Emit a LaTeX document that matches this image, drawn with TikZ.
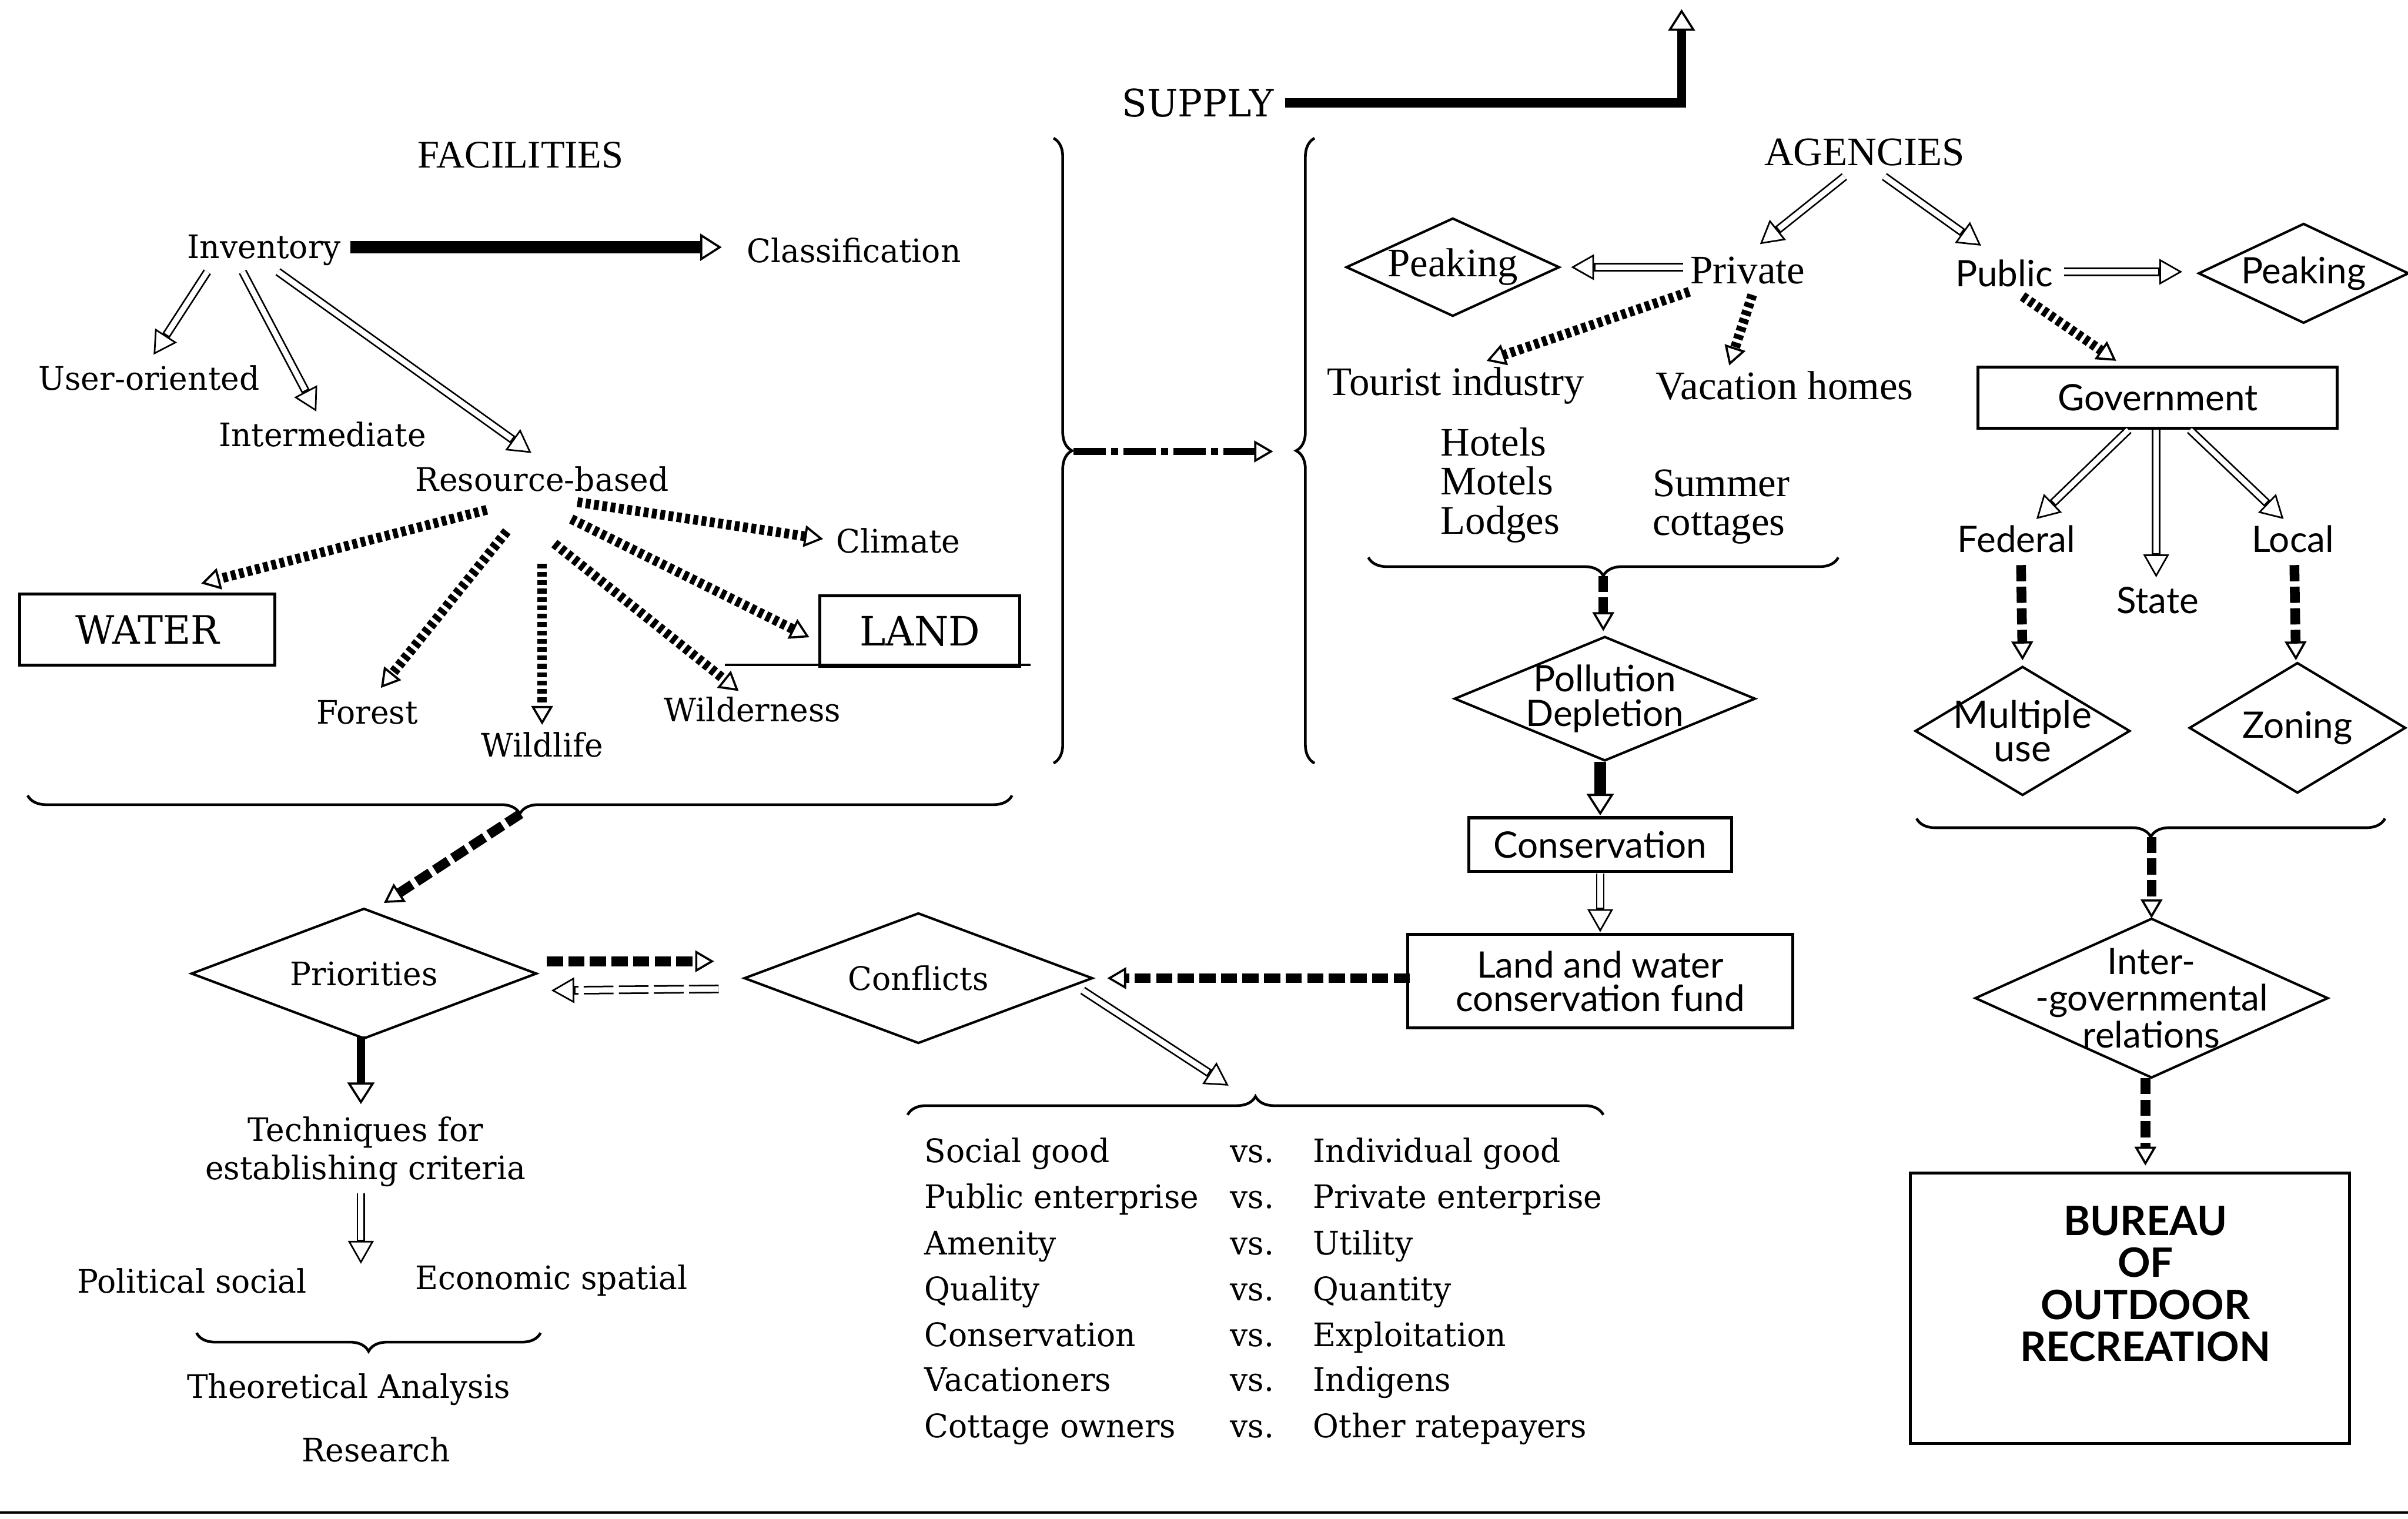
\documentclass[tikz,border=0pt]{standalone}
\usepackage{fontspec}
\usetikzlibrary{arrows.meta,shapes.geometric,decorations.pathreplacing}
\setmainfont{DejaVu Serif}[FakeStretch=0.97]
\newfontfamily\agfont{Liberation Serif}
\newfontfamily\govfont{Lato}

\begin{document}
\begin{tikzpicture}[x=0.2mm, y=-0.2mm,
	every node/.style={inner sep=1pt, font=\fontsize{12}{14}\selectfont},
	agtext/.style={font=\agfont\fontsize{15}{17}\selectfont},
	govtext/.style={font=\govfont\fontsize{13.5}{15}\selectfont},
	panel/.style={draw, line width=1.1pt, inner sep=0pt},
	decision/.style={draw, diamond, aspect=2.4, line width=0.9pt, inner sep=-8pt},
	openhead/.style={-{Triangle[open, line width=0.8pt, length=7pt, width=8pt]}},
	heavy/.style={-{Triangle[open, line width=0.8pt, length=8pt, width=10pt]}, line width=4.5pt},
	hollow/.style={-{Triangle[open, line width=0.6pt, length=8.5pt, width=9.5pt]}, line width=3.2pt, postaction={draw=white, line width=2pt, -, solid, shorten >=9pt}},
	ladder/.style={openhead, line width=3.6pt, dash pattern=on 1.8pt off 1.3pt},
	striped/.style={openhead, line width=3.6pt, dash pattern=on 6pt off 2pt},
	dashdotarrow/.style={openhead, line width=2.6pt, dash pattern=on 12pt off 2pt on 2.5pt off 2pt},
	curly/.style={decorate, decoration={brace, amplitude=#1}, line width=1pt}]
	\useasboundingbox (0,0) rectangle (1568,989);

	\node[font=\fontsize{14}{16}\selectfont] (supply) at (780,67) {SUPPLY};
	\coordinate (supplytop) at (1095,6);
	\draw[heavy, line width=3.4pt] ([xshift=3pt]supply.east) -| (supplytop);

	\node[font=\agfont\fontsize{14.5}{16}\selectfont] (facilities) at (339,101) {FACILITIES};
	\node (inventory) at (172,163) {Inventory};
	\node (classification) at (556,163) {Classification};
	\node (useroriented) at (97,246) {User-oriented};
	\node (intermediate) at (210,283) {Intermediate};
	\node (resbased) at (353,312) {Resource-based};
	\node (climate) at (585,352) {Climate};
	\node[panel, minimum width=33.2mm, minimum height=9.2mm, font=\fontsize{14.5}{16}\selectfont] (water) at (96,410) {WATER};
	\node[panel, minimum width=26mm, minimum height=9.2mm, font=\fontsize{15}{16}\selectfont] (land) at (599,411) {LAND};
	\node (forest) at (239,464) {Forest};
	\node (wildlife) at (353,485) {Wildlife};
	\node (wilderness) at (490,462) {Wilderness};

	\draw[heavy] ([shift={(56,-2)}]inventory.center) -- ([shift={(-86,-2)}]classification.center);
	\draw[hollow] ([shift={(-37,14)}]inventory.center) -- ([shift={(3,-15)}]useroriented.center);
	\draw[hollow] ([shift={(-14,14)}]inventory.center) -- ([shift={(-4,-15)}]intermediate.center);
	\draw[hollow] ([shift={(9,14)}]inventory.center) -- ([shift={(-7,-17)}]resbased.center);
	\draw[ladder] ([shift={(-36,20)}]resbased.center) -- ([shift={(35,-30)}]water.center);
	\draw[ladder] ([shift={(-23,34)}]resbased.center) -- ([shift={(9,-16)}]forest.center);
	\draw[ladder] ([shift={(0,55)}]resbased.center) -- ([shift={(0,-13)}]wildlife.center);
	\draw[ladder] ([shift={(8,42)}]resbased.center) -- ([shift={(-9,-12)}]wilderness.center);
	\draw[ladder] ([shift={(19,26)}]resbased.center) -- ([shift={(-72,4)}]land.center);
	\draw[ladder] ([shift={(23,15)}]resbased.center) -- ([shift={(-49,-1)}]climate.center);
	\draw[line width=0.9pt] ([shift={(-127,22)}]land.center) -- ([shift={(72,22)}]land.center);

	\draw[curly=2.4mm] (686,90) -- (686,497);
	\coordinate (factip) at (699,294);
	\draw[curly=2.4mm] (856,497) -- (856,90);
	\coordinate (agtip) at (844,294);
	\draw[dashdotarrow] (factip) -- ([shift={(-15,0)}]agtip);

	\draw[curly=2.4mm] (659,518) -- (18,518);
	\coordinate (facbottom) at (339,530);

	\node[decision, minimum width=45mm, minimum height=17mm] (priorities) at (237,634) {Priorities};
	\node[decision, minimum width=45.4mm, minimum height=17mm] (conflicts) at (598,637) {Conflicts};
	\node[align=center, font=\fontsize{12}{14.2}\selectfont] (techniques) at (238,750) {Techniques for\\establishing criteria};
	\coordinate (split) at (235,823);
	\node (political) at (125,834) {Political social};
	\node (economic) at (359,834) {Economic spatial};
	\draw[curly=2.4mm] (352,868) -- (128,868);
	\node (theoretical) at (227,905) {Theoretical Analysis};
	\node (research) at (245,944) {Research};

	\draw[striped] (facbottom) -- ([shift={(13,-46)}]priorities.center);
	\draw[striped] ([shift={(119,-8)}]priorities.center) -- ([shift={(-133,-11)}]conflicts.center);
	\draw[hollow, dash pattern=on 11pt off 2pt] ([shift={(-130,7)}]conflicts.center) -- ([shift={(122,11)}]priorities.center);
	\draw[heavy, line width=3pt] ([shift={(-2,41)}]priorities.center) -- ([shift={(-3,-31)}]techniques.center);
	\draw[hollow] ([shift={(-3,27)}]techniques.center) -- (split);

	\draw[curly=2.4mm] (591,726) -- (1044,726);
	\coordinate (vstip) at (817,714);
	\draw[hollow] ([shift={(107,8)}]conflicts.center) -- ([shift={(-17,-7)}]vstip);

	\node[anchor=base west] (lhsa) at (600,757) {Social good};
	\node[anchor=base west] (vsa) at (799,757) {vs.};
	\node[anchor=base west] (rhsa) at (853,757) {Individual good};
	\node[anchor=base west] (lhsb) at (600,787) {Public enterprise};
	\node[anchor=base west] (vsb) at (799,787) {vs.};
	\node[anchor=base west] (rhsb) at (853,787) {Private enterprise};
	\node[anchor=base west] (lhsc) at (600,817) {Amenity};
	\node[anchor=base west] (vsc) at (799,817) {vs.};
	\node[anchor=base west] (rhsc) at (853,817) {Utility};
	\node[anchor=base west] (lhsd) at (600,847) {Quality};
	\node[anchor=base west] (vsd) at (799,847) {vs.};
	\node[anchor=base west] (rhsd) at (853,847) {Quantity};
	\node[anchor=base west] (lhse) at (600,877) {Conservation};
	\node[anchor=base west] (vse) at (799,877) {vs.};
	\node[anchor=base west] (rhse) at (853,877) {Exploitation};
	\node[anchor=base west] (lhsf) at (600,906) {Vacationers};
	\node[anchor=base west] (vsf) at (799,906) {vs.};
	\node[anchor=base west] (rhsf) at (853,906) {Indigens};
	\node[anchor=base west] (lhsg) at (600,936) {Cottage owners};
	\node[anchor=base west] (vsg) at (799,936) {vs.};
	\node[anchor=base west] (rhsg) at (853,936) {Other ratepayers};

	\node[agtext] (agencies) at (1214,99) {AGENCIES};
	\node[agtext] (private) at (1138,176) {Private};
	\node[decision, agtext, minimum width=27.8mm, minimum height=12.8mm] (peakprivate) at (946,174) {Peaking};
	\node[agtext] (tourist) at (948,251) {Tourist industry};
	\node[agtext] (vacation) at (1162,251) {Vacation homes};
	\node[align=left, anchor=west, font=\agfont\fontsize{15}{14.5}\selectfont] (lodging) at (936,316) {Hotels\\Motels\\Lodges};
	\node[align=left, anchor=west, font=\agfont\fontsize{15}{14.5}\selectfont] (cottages) at (1074,330) {Summer\\cottages};
	\draw[curly=2.4mm] (1197,363) -- (891,363);
	\coordinate (privtip) at (1044,375);

	\node[decision, align=center, minimum width=39.2mm, minimum height=16.2mm, font=\govfont\fontsize{13.5}{13}\selectfont] (pollution) at (1045,455) {Pollution\\Depletion};
	\node[panel, govtext, minimum width=34.2mm, minimum height=7mm] (conservation) at (1042,550) {Conservation};
	\node[panel, align=center, minimum width=50.2mm, minimum height=12.2mm, font=\govfont\fontsize{13.5}{12.5}\selectfont] (fund) at (1042,639) {Land and water\\conservation fund};

	\node[govtext] (public) at (1305,178) {Public};
	\node[decision, govtext, minimum width=27.4mm, minimum height=13mm] (peakpublic) at (1500,178) {Peaking};
	\node[panel, govtext, minimum width=46.8mm, minimum height=8mm] (government) at (1405,259) {Government};
	\node[govtext] (federal) at (1313,351) {Federal};
	\node[govtext] (state) at (1405,391) {State};
	\node[govtext] (local) at (1493,351) {Local};
	\node[decision, align=center, minimum width=28mm, minimum height=16.8mm, font=\govfont\fontsize{14}{12.5}\selectfont] (multiple) at (1317,476) {Multiple\\use};
	\node[decision, govtext, minimum width=28.2mm, minimum height=17mm] (zoning) at (1496,474) {Zoning};
	\draw[curly=2.4mm] (1553,533) -- (1248,533);
	\coordinate (govtip) at (1401,545);
	\node[decision, align=center, minimum width=46mm, minimum height=20.8mm, font=\govfont\fontsize{13.5}{13.6}\selectfont] (intergov) at (1401,650) {Inter-\\-governmental\\relations};
	\node[panel, minimum width=57.2mm, minimum height=35.2mm] (bureau) at (1387,852) {};
	\node[align=center, font=\govfont\bfseries\fontsize{15}{15.5}\selectfont] (bureautext) at (1397,836) {BUREAU\\OF\\OUTDOOR\\RECREATION};

	\draw[hollow] ([shift={(-13,16)}]agencies.center) -- ([shift={(8,-17)}]private.center);
	\draw[hollow] ([shift={(13,16)}]agencies.center) -- ([shift={(-15,-18)}]public.center);
	\draw[hollow] ([shift={(-42,-2)}]private.center) -- ([shift={(77,0)}]peakprivate.center);
	\draw[ladder] ([shift={(-38,14)}]private.center) -- ([shift={(20,-16)}]tourist.center);
	\draw[ladder] ([shift={(3,16)}]private.center) -- ([shift={(-36,-13)}]vacation.center);
	\draw[striped] (privtip) -- ([shift={(-1,-44)}]pollution.center);
	\draw[heavy] ([shift={(-3,41)}]pollution.center) -- ([shift={(0,-19)}]conservation.center);
	\draw[hollow] ([shift={(0,19)}]conservation.center) -- ([shift={(0,-32)}]fund.center);
	\draw[striped] ([shift={(-124,-2)}]fund.center) -- ([shift={(123,0)}]conflicts.center);
	\draw[hollow] ([shift={(39,-1)}]public.center) -- ([shift={(-79,-1)}]peakpublic.center);
	\draw[ladder] ([shift={(12,15)}]public.center) -- ([shift={(-27,-24)}]government.center);
	\draw[hollow] ([shift={(-19,21)}]government.center) -- ([shift={(13,-13)}]federal.center);
	\draw[hollow] ([shift={(-1,21)}]government.center) -- ([shift={(-1,-15)}]state.center);
	\draw[hollow] ([shift={(21,21)}]government.center) -- ([shift={(-6,-13)}]local.center);
	\draw[striped] ([shift={(3,17)}]federal.center) -- ([shift={(0,-46)}]multiple.center);
	\draw[striped] ([shift={(1,17)}]local.center) -- ([shift={(-1,-44)}]zoning.center);
	\draw[striped] (govtip) -- ([shift={(0,-52)}]intergov.center);
	\draw[striped] ([shift={(-4,52)}]intergov.center) -- ([shift={(10,-93)}]bureau.center);

	\draw[line width=1pt] (0,985) -- (1568,985);
\end{tikzpicture}
\end{document}
